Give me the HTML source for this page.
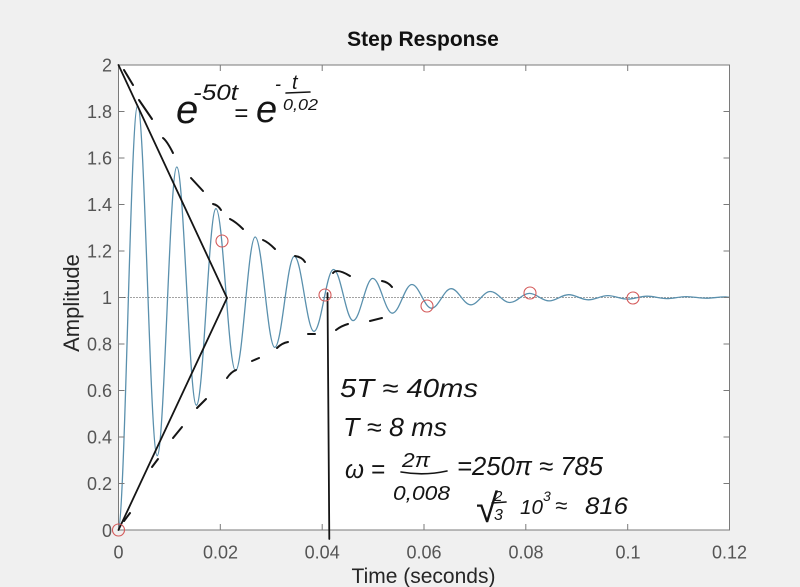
<!DOCTYPE html>
<html>
<head>
<meta charset="utf-8">
<style>
  html, body { margin: 0; padding: 0; background: #f0f0f0; }
  svg { display: block; }
  .tick { font-family: "Liberation Sans", Arial, sans-serif; font-size: 18px; fill: #555; }
  .lab { font-family: "Liberation Sans", Arial, sans-serif; fill: #262626; }
  .hw { font-family: "Liberation Sans", "DejaVu Sans", sans-serif; font-style: italic; fill: #151515; }
</style>
</head>
<body>
<svg width="800" height="587" viewBox="0 0 800 587" xmlns="http://www.w3.org/2000/svg">
  <rect x="0" y="0" width="800" height="587" fill="#f0f0f0"/>
  <rect x="118.5" y="65" width="611" height="465" fill="#ffffff"/>

  <text x="423" y="46" text-anchor="middle" font-family="Liberation Sans, Arial, sans-serif" font-size="21" font-weight="bold" fill="#111">Step Response</text>

  <line x1="118.5" y1="297.5" x2="729.5" y2="297.5" stroke="#444" stroke-width="1" stroke-dasharray="1,2"/>

  <path fill="none" stroke="#5a90ad" stroke-width="1.3" d="M118,530
    C125.12,530 130.47,105.7 137.59,105.7
    C144.71,105.7 150.07,455.7 157.19,455.7
    C164.31,455.7 169.66,167 176.78,167
    C183.9,167 189.26,405.2 196.38,405.2
    C203.5,405.2 208.85,208.6 215.97,208.6
    C223.09,208.6 228.44,370.8 235.56,370.8
    C242.68,370.8 248.04,237 255.16,237
    C262.28,237 267.63,347.4 274.75,347.4
    C281.87,347.4 287.23,256.3 294.35,256.3
    C301.47,256.3 306.82,331.4 313.94,331.4
    C321.06,331.4 326.41,269.5 333.53,269.5
    C340.65,269.5 346.01,320.6 353.13,320.6
    C360.25,320.6 365.6,278.4 372.72,278.4
    C379.84,278.4 385.2,313.2 392.32,313.2
    C399.44,313.2 404.79,284.5 411.91,284.5
    C419.03,284.5 424.38,308.2 431.5,308.2
    C438.62,308.2 443.98,288.7 451.1,288.7
    C458.22,288.7 463.57,304.8 470.69,304.8
    C477.81,304.8 483.17,291.5 490.29,291.5
    C497.41,291.5 502.76,302.5 509.88,302.5
    C517,302.5 522.35,293.4 529.47,293.4
    C536.59,293.4 541.95,300.9 549.07,300.9
    C556.19,300.9 561.54,294.7 568.66,294.7
    C575.78,294.7 581.14,299.8 588.26,299.8
    C595.38,299.8 600.73,295.6 607.85,295.6
    C614.97,295.6 620.32,299.1 627.44,299.1
    C634.56,299.1 639.92,296.2 647.04,296.2
    C654.16,296.2 659.51,298.6 666.63,298.6
    C673.75,298.6 679.11,296.6 686.23,296.6
    C693.35,296.6 698.7,298.2 705.82,298.2
    C712.94,298.2 718.29,296.9 725.41,296.9
    L729,297.3"/>

  <rect x="118.5" y="65" width="611" height="465" fill="none" stroke="#7a7a7a" stroke-width="1"/>

  <g stroke="#7a7a7a" stroke-width="1">
    <line x1="220.3" y1="530" x2="220.3" y2="524"/>
    <line x1="322.2" y1="530" x2="322.2" y2="524"/>
    <line x1="424" y1="530" x2="424" y2="524"/>
    <line x1="525.8" y1="530" x2="525.8" y2="524"/>
    <line x1="627.7" y1="530" x2="627.7" y2="524"/>
    <line x1="220.3" y1="65" x2="220.3" y2="71"/>
    <line x1="322.2" y1="65" x2="322.2" y2="71"/>
    <line x1="424" y1="65" x2="424" y2="71"/>
    <line x1="525.8" y1="65" x2="525.8" y2="71"/>
    <line x1="627.7" y1="65" x2="627.7" y2="71"/>
    <line x1="118.5" y1="483.5" x2="124.5" y2="483.5"/>
    <line x1="118.5" y1="437" x2="124.5" y2="437"/>
    <line x1="118.5" y1="390.5" x2="124.5" y2="390.5"/>
    <line x1="118.5" y1="344" x2="124.5" y2="344"/>
    <line x1="118.5" y1="297.5" x2="124.5" y2="297.5"/>
    <line x1="118.5" y1="251" x2="124.5" y2="251"/>
    <line x1="118.5" y1="204.5" x2="124.5" y2="204.5"/>
    <line x1="118.5" y1="158" x2="124.5" y2="158"/>
    <line x1="118.5" y1="111.5" x2="124.5" y2="111.5"/>
    <line x1="729.5" y1="483.5" x2="723.5" y2="483.5"/>
    <line x1="729.5" y1="437" x2="723.5" y2="437"/>
    <line x1="729.5" y1="390.5" x2="723.5" y2="390.5"/>
    <line x1="729.5" y1="344" x2="723.5" y2="344"/>
    <line x1="729.5" y1="297.5" x2="723.5" y2="297.5"/>
    <line x1="729.5" y1="251" x2="723.5" y2="251"/>
    <line x1="729.5" y1="204.5" x2="723.5" y2="204.5"/>
    <line x1="729.5" y1="158" x2="723.5" y2="158"/>
    <line x1="729.5" y1="111.5" x2="723.5" y2="111.5"/>
  </g>

  <g class="tick" text-anchor="end">
    <text x="112" y="537">0</text>
    <text x="112" y="490">0.2</text>
    <text x="112" y="443.5">0.4</text>
    <text x="112" y="397">0.6</text>
    <text x="112" y="350.5">0.8</text>
    <text x="112" y="304">1</text>
    <text x="112" y="257.5">1.2</text>
    <text x="112" y="211">1.4</text>
    <text x="112" y="164.5">1.6</text>
    <text x="112" y="118">1.8</text>
    <text x="112" y="71.5">2</text>
  </g>
  <g class="tick" text-anchor="middle">
    <text x="118.5" y="558.5">0</text>
    <text x="220.5" y="558.5">0.02</text>
    <text x="322.2" y="558.5">0.04</text>
    <text x="424" y="558.5">0.06</text>
    <text x="526" y="558.5">0.08</text>
    <text x="628" y="558.5">0.1</text>
    <text x="729.5" y="558.5">0.12</text>
  </g>

  <text class="lab" x="423.5" y="583" font-size="21" text-anchor="middle">Time (seconds)</text>
  <text class="lab" font-size="22" text-anchor="middle" transform="translate(79,303) rotate(-90)">Amplitude</text>

  <g stroke="#151515" stroke-width="1.8" fill="none" stroke-linecap="round">
    <line x1="118.5" y1="65" x2="227" y2="298"/>
    <line x1="118.5" y1="530" x2="227" y2="298"/>
    <line x1="327.5" y1="293" x2="329.3" y2="539"/>
  </g>

  <g stroke="#151515" stroke-width="2" fill="none" stroke-linecap="round">
    <path d="M124,70 L133,85"/>
    <path d="M139,100 L152,119"/>
    <path d="M163,138 Q167,141 173,153"/>
    <path d="M191,178 L203,191"/>
    <path d="M213,204 Q218,205 221,210"/>
    <path d="M230,219 Q236,222 243,229"/>
    <path d="M263,240 Q268,242 275,249"/>
    <path d="M295,256 Q302,257 305,262"/>
    <path d="M333,273 Q337,268 350,276"/>
    <path d="M382,281 Q388,282 392,287"/>

    <path d="M124,521 L130,513"/>
    <path d="M152,467 L158,459"/>
    <path d="M173,438 L182,427"/>
    <path d="M197,408 L206,399"/>
    <path d="M227,378 Q231,372 236,370"/>
    <path d="M252,361 L259,358"/>
    <path d="M277,348 Q282,343 288,342"/>
    <path d="M308,334 L315,334"/>
    <path d="M336,330 Q341,326 348,324"/>
    <path d="M370,321 L382,318"/>
  </g>

  <g stroke="#d45a5a" stroke-width="1.1" fill="none">
    <circle cx="118.5" cy="530" r="6"/>
    <circle cx="222" cy="241" r="6"/>
    <circle cx="325" cy="295" r="6"/>
    <circle cx="427" cy="306" r="6"/>
    <circle cx="530" cy="293" r="6"/>
    <circle cx="633" cy="298" r="6"/>
  </g>

  <g class="hw">
    <text x="176" y="123" font-size="40">e</text>
    <text x="193" y="100" font-size="22" textLength="45" lengthAdjust="spacingAndGlyphs">-50t</text>
    <text x="234" y="121" font-size="24">=</text>
    <text x="256" y="122" font-size="38">e</text>
    <text x="275" y="90" font-size="18">-</text>
    <text x="292" y="89" font-size="20">t</text>
    <text x="283" y="110" font-size="16" textLength="35" lengthAdjust="spacingAndGlyphs">0,02</text>

    <text x="340" y="397" font-size="26" textLength="138" lengthAdjust="spacingAndGlyphs">5T ≈ 40ms</text>
    <text x="343" y="436" font-size="26" textLength="104" lengthAdjust="spacingAndGlyphs">T ≈ 8 ms</text>
    <text x="345" y="478" font-size="26" textLength="40" lengthAdjust="spacingAndGlyphs">ω =</text>
    <text x="402" y="467" font-size="20" textLength="28" lengthAdjust="spacingAndGlyphs">2π</text>
    <text x="393" y="500" font-size="20" textLength="57" lengthAdjust="spacingAndGlyphs">0,008</text>
    <text x="457" y="475" font-size="26" textLength="146" lengthAdjust="spacingAndGlyphs">=250π ≈ 785</text>
    <text x="476" y="522" font-size="40">√</text>
    <text x="494" y="501" font-size="15">2</text>
    <text x="494" y="520" font-size="16">3</text>
    <text x="520" y="514" font-size="20" textLength="23" lengthAdjust="spacingAndGlyphs">10</text>
    <text x="543" y="501" font-size="14">3</text>
    <text x="555" y="513" font-size="22">≈</text>
    <text x="585" y="514" font-size="24" textLength="43" lengthAdjust="spacingAndGlyphs">816</text>
  </g>
  <g stroke="#151515" stroke-width="1.6" fill="none" stroke-linecap="round">
    <path d="M286,93 L310,92"/>
    <path d="M401,472 Q424,476 447,471"/>
    <path d="M492,503 L506,502"/>
  </g>
</svg>
</body>
</html>
